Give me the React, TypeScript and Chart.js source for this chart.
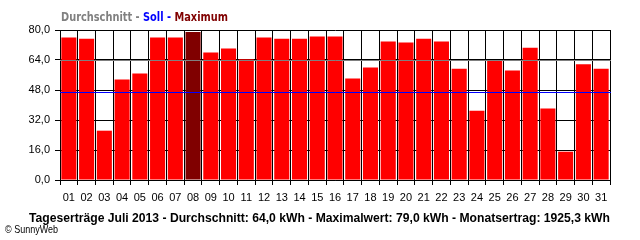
import React, { useEffect, useRef } from 'react';
import { Chart, registerables } from 'chart.js';

Chart.register(...registerables);

const DAYS = ['01','02','03','04','05','06','07','08','09','10','11','12','13','14','15','16','17','18','19','20','21','22','23','24','25','26','27','28','29','30','31'];
const DAILY_YIELD_KWH = [76.0,75.4,26.3,53.6,56.8,76.0,76.0,79.0,68.0,70.1,64.4,76.0,75.4,75.4,76.5,76.5,54.1,60.0,73.9,73.4,75.4,73.9,59.4,37.0,63.9,58.4,70.6,38.1,15.1,61.7,59.4];
const AVERAGE_KWH = 64.0;
const TARGET_KWH = 47.0;
const MAX_KWH = 79.0;
const Y_MIN = 0;
const Y_MAX = 80;
const Y_STEP = 16;

const TITLE_PARTS = [
  { text: 'Durchschnitt - ', color: '#808080' },
  { text: 'Soll - ', color: '#0000FF' },
  { text: 'Maximum', color: '#800000' },
];
const FOOTER = 'Tageserträge Juli 2013 - Durchschnitt: 64,0 kWh - Maximalwert: 79,0 kWh - Monatsertrag: 1925,3 kWh';
const COPYRIGHT = '© SunnyWeb';

const refLinesPlugin = {
  id: 'refLines',
  afterDatasetsDraw(chart: any) {
    const ctx = chart.ctx;
    const ys = chart.scales.y;
    const { left, right } = chart.chartArea;
    const lines = [
      { v: AVERAGE_KWH, color: '#808080' },
      { v: TARGET_KWH, color: '#0000FF' },
    ];
    ctx.save();
    ctx.lineWidth = 1;
    for (const l of lines) {
      const y = Math.round(ys.getPixelForValue(l.v)) + 0.5;
      ctx.strokeStyle = l.color;
      ctx.beginPath();
      ctx.moveTo(left, y);
      ctx.lineTo(right + 1, y);
      ctx.stroke();
    }
    ctx.restore();
  },
};

const textPlugin = {
  id: 'texts',
  afterDraw(chart: any) {
    const ctx = chart.ctx;
    ctx.save();
    // Title
    ctx.font = 'bold 12px "DejaVu Sans"';
    ctx.textBaseline = 'alphabetic';
    ctx.textAlign = 'left';
    const widths = TITLE_PARTS.map((p) => ctx.measureText(p.text).width);
    const total = widths.reduce((a, b) => a + b, 0);
    const f = 167 / total;
    ctx.save();
    ctx.translate(61, 20.5);
    ctx.scale(f, 1);
    let x = 0;
    TITLE_PARTS.forEach((p, i) => {
      ctx.fillStyle = p.color;
      ctx.fillText(p.text, x, 0);
      x += widths[i];
    });
    ctx.restore();
    // Footer
    ctx.font = 'bold 12px "Liberation Sans"';
    ctx.fillStyle = '#000000';
    const fw = ctx.measureText(FOOTER).width;
    ctx.save();
    ctx.translate(29, 221.5);
    ctx.scale(581 / fw, 1);
    ctx.fillText(FOOTER, 0, 0);
    ctx.restore();
    // Copyright
    ctx.font = '11px "Liberation Sans"';
    ctx.fillText(COPYRIGHT, 5, 232.5, 53);
    ctx.restore();
  },
};

export default function App() {
  const ref = useRef<HTMLCanvasElement>(null);
  useEffect(() => {
    if (!ref.current) return;
    const chart = new Chart(ref.current, {
      type: 'bar',
      data: {
        labels: DAYS,
        datasets: [
          {
            data: DAILY_YIELD_KWH,
            backgroundColor: DAILY_YIELD_KWH.map((v) => (v === MAX_KWH ? '#800000' : '#FF0000')),
            borderWidth: 0,
            categoryPercentage: 1,
            barPercentage: 0.85,
          },
        ],
      },
      options: {
        animation: false,
        responsive: false,
        devicePixelRatio: 1,
        layout: { padding: { top: 30, right: 30, left: 0, bottom: 0 } },
        plugins: { legend: { display: false }, tooltip: { enabled: false }, title: { display: false } },
        scales: {
          x: {
            offset: true,
            grid: { color: '#000000', lineWidth: 1, tickLength: 5, offset: true, drawTicks: true },
            border: { display: true, color: '#000000' },
            ticks: {
              color: '#000000',
              font: { family: '"Liberation Sans", Arial', size: 11 },
              padding: 6,
              maxRotation: 0,
              autoSkip: false,
            },
            afterFit: (s: any) => { s.height = 60; },
          },
          y: {
            min: Y_MIN,
            max: Y_MAX,
            grid: { color: '#000000', lineWidth: 1, tickLength: 5, drawTicks: true },
            border: { display: true, color: '#000000' },
            ticks: {
              stepSize: Y_STEP,
              color: '#000000',
              font: { family: '"Liberation Sans", Arial', size: 11 },
              padding: 5,
              callback: (v: any) => Number(v).toFixed(1).replace('.', ','),
            },
            afterFit: (s: any) => { s.width = 60; },
          },
        },
      },
      plugins: [refLinesPlugin, textPlugin],
    });
    return () => chart.destroy();
  }, []);
  return (
    <div style={{ position: 'fixed', left: 0, top: 0, width: 640, height: 240, background: '#ffffff' }}>
      <canvas ref={ref} width={640} height={240} style={{ width: 640, height: 240, display: 'block' }} />
    </div>
  );
}
